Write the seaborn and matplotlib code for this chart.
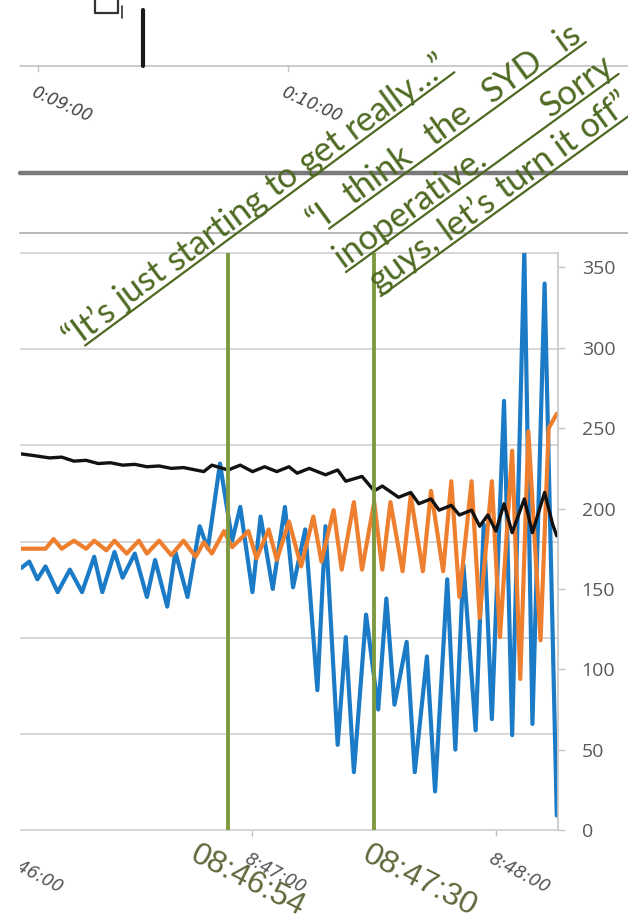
import numpy as np
import pandas as pd
import seaborn as sns
import matplotlib.pyplot as plt
from matplotlib.lines import Line2D
from matplotlib.transforms import Bbox, TransformedBbox, offset_copy
import matplotlib.dates as mdates

W, H = 628, 923

# seconds after 08:46:00 and the values (right axis)
blue_sec = [3, 5, 7, 9, 12, 15, 18, 21, 23, 26, 28, 31, 34, 36, 39, 41, 44, 47, 49, 52,
            55, 57, 60, 62, 65, 68, 70, 73, 76, 78, 81, 83, 85, 88, 91, 93, 95, 98, 100, 103,
            105, 108, 110, 112, 115, 117, 119, 122, 124, 127, 129, 132, 135]
blue_val = [163, 167, 156, 164, 148, 162, 148, 170, 148, 173, 157, 172, 145, 168, 139, 173, 145, 189, 175, 228,
            180, 201, 148, 195, 150, 201, 151, 187, 87, 189, 53, 120, 36, 134, 75, 144, 78, 117, 36, 108,
            24, 156, 50, 165, 62, 190, 69, 267, 59, 360, 66, 340, 9]

orange_sec = [3, 9, 11, 13, 16, 19, 21, 24, 26, 29, 32, 34, 37, 40, 43, 46, 48, 50, 53, 55,
              59, 61, 64, 66, 69, 72, 75, 77, 80, 82, 85, 87, 90, 92, 94, 97, 99, 102, 104, 107,
              109, 111, 114, 116, 119, 121, 124, 126, 128, 131, 133, 135]
orange_val = [175, 175, 181, 175, 180, 175, 180, 174, 180, 172, 180, 172, 180, 171, 180, 170, 179, 172, 186, 176,
              186, 169, 187, 168, 192, 164, 195, 167, 199, 162, 204, 162, 204, 162, 204, 161, 208, 161, 211, 161,
              217, 145, 217, 132, 217, 120, 236, 94, 248, 118, 250, 259]

black_sec = [3, 6, 10, 13, 16, 19, 22, 25, 28, 31, 34, 37, 40, 43, 48, 50, 54, 57, 60, 63,
             66, 69, 71, 74, 78, 81, 83, 87, 90, 92, 96, 99, 101, 104, 106, 109, 111, 114, 116, 118,
             120, 122, 124, 127, 129, 132, 134, 135]
black_val = [234, 233, 231.5, 232, 229.5, 230, 228, 228.5, 227, 227.5, 226, 226.5, 225, 225.5, 223, 227, 224, 227, 223, 226,
             223, 226, 222, 225, 221, 224, 217, 220, 211, 214, 207, 210, 203, 206, 199, 202, 196, 199, 189, 196,
             186, 203, 185, 206, 185, 210, 190, 183]

start_time = "08:46:00"
event_times = ["08:46:54", "08:47:30"]
tick_times = ["08:46:00", "08:47:00", "08:48:00"]
tick_labels = ["8:46:00", "8:47:00", "8:48:00"]
right_ticks = [0, 50, 100, 150, 200, 250, 300, 350]
grid_levels = [0, 1, 2, 3, 4, 5, 6]  # unlabeled left axis
top_tick_labels = ["0:09:00", "0:10:00"]

quote1 = "\u201cIt\u2019s just starting to get really\u2026\u201d"
quote2 = ["\u201cI think the SYD is", "inoperative. Sorry", "guys, let\u2019s turn it off\u201d"]

BLUE, ORANGE, BLACK = "#1b7bc6", "#ee7f2e", "#121212"
EVENT_GREEN = "#7e9a40"
TEXT_GREEN = "#4f6a22"

sns.set_theme(style="white")
plt.rcParams["font.family"] = ["Open Sans", "DejaVu Sans"]

day = "2016-01-01 "
t0 = pd.Timestamp(day + start_time)


def to_df(sec, val):
    return pd.DataFrame({"time": t0 + pd.to_timedelta(sec, unit="s"), "value": val})


def fig_xy(x, y):
    # reference pixel (from top-left) -> figure fraction
    return x / W, 1 - y / H


fig = plt.figure(figsize=(W / 100, H / 100), dpi=100)
fig.patch.set_facecolor("white")

# ---- main chart ----
left, right, top, bottom = 21, 558, 253, 830
ax = fig.add_axes([left / W, 1 - bottom / H, (right - left) / W, (bottom - top) / H])
ax2 = ax.twinx()

ax.set_ylim(grid_levels[0], grid_levels[-1])
ax.set_yticks([])
for g in grid_levels:
    ax.axhline(g, color="#d3d3d3", lw=1.3, clip_on=False)
for s in ax.spines.values():
    s.set_visible(False)

sns.lineplot(data=to_df(blue_sec, blue_val), x="time", y="value", ax=ax2, color=BLUE, lw=3.0)
sns.lineplot(data=to_df(orange_sec, orange_val), x="time", y="value", ax=ax2, color=ORANGE, lw=3.0)
sns.lineplot(data=to_df(black_sec, black_val), x="time", y="value", ax=ax2, color=BLACK, lw=2.4)
for et in event_times:
    ax2.axvline(pd.Timestamp(day + et), color=EVENT_GREEN, lw=2.8, zorder=6)

ax2.set_ylim(0, 359)
ax2.set_yticks(right_ticks)
ax2.set(xlabel="", ylabel="")
ax2.yaxis.set_ticks_position("right")
ax2.tick_params(axis="y", length=5, width=1, color="#c4c4c4",
                labelsize=14, labelcolor="#5a5a5a", pad=12)
for name, s in ax2.spines.items():
    s.set_visible(name == "right")
ax2.spines["right"].set_color("#c8c8c8")

ax2.set_xlim(t0 + pd.Timedelta(seconds=2.96), t0 + pd.Timedelta(seconds=135.3))
ax.set_xticks([pd.Timestamp(day + t) for t in tick_times[1:]])
ax.tick_params(axis="x", bottom=True, length=4, width=1, color="#bdbdbd", labelbottom=False)

# x tick labels, cut off at the left edge of the photo
clip = TransformedBbox(Bbox.from_extents(20 / W, 0, 1, 1), fig.transFigure)
for tt, lab in zip(tick_times, tick_labels):
    xnum = mdates.date2num(pd.Timestamp(day + tt))
    tr = offset_copy(ax.get_xaxis_transform(), fig=fig, x=-2, y=-20, units="dots")
    txt = fig.text(xnum, 0, lab, transform=tr, ha="left", va="top", rotation=-28,
                   rotation_mode="anchor", fontsize=12.5, style="italic", color="#555555",
                   family="DejaVu Sans")
    txt.set_clip_on(True)
    txt.set_clip_box(clip)

# big green event time labels
for et, dx in zip(event_times, [-29, -3]):
    xnum = mdates.date2num(pd.Timestamp(day + et))
    tr = offset_copy(ax.get_xaxis_transform(), fig=fig, x=dx, y=-10, units="dots")
    fig.text(xnum, 0, et, transform=tr, ha="left", va="top", rotation=-27,
             rotation_mode="anchor", fontsize=23, color="#5e6a3c", family="Liberation Sans")

# ---- top strip: piece of another chart ----
fig.add_artist(Line2D([20 / W, 1], [1 - 66 / H] * 2, transform=fig.transFigure, color="#c4c4c4", lw=1.2))
fig.add_artist(Line2D([143 / W] * 2, [1 - 10 / H, 1 - 66 / H], transform=fig.transFigure, color="#1a1a1a", lw=3))
fig.add_artist(Line2D([95 / W, 95 / W, 118 / W, 118 / W], [1, 1 - 13 / H, 1 - 13 / H, 1],
                      transform=fig.transFigure, color="#333333", lw=1.6))
fig.add_artist(Line2D([122 / W] * 2, [1 - 6 / H, 1 - 18 / H], transform=fig.transFigure, color="#333333", lw=1.2))
for xt, lab in zip([38, 288], top_tick_labels):
    fig.add_artist(Line2D([xt / W] * 2, [1 - 66 / H, 1 - 71 / H], transform=fig.transFigure, color="#c4c4c4", lw=1))
    fig.text(*fig_xy(xt - 2, 83), lab, ha="left", va="top", rotation=-24, rotation_mode="anchor",
             fontsize=12, style="italic", color="#444444", family="DejaVu Sans")

fig.add_artist(Line2D([20 / W, 1], [1 - 173 / H] * 2, transform=fig.transFigure, color="#7a7a7a", lw=3.2))
fig.add_artist(Line2D([20 / W, 1], [1 - 233 / H] * 2, transform=fig.transFigure, color="#b8b8b8", lw=1.4))

# ---- underlined quotes ----
renderer = fig.canvas.get_renderer()


def measure(s, fs):
    t = fig.text(0, 0, s, fontsize=fs, family="Lato")
    w = t.get_window_extent(renderer).width
    t.remove()
    return w


def draw_quote_line(line, x0, y0, angle, fs, target=None):
    th = np.deg2rad(angle)
    d = np.array([np.cos(th), -np.sin(th)])
    n = np.array([np.sin(th), np.cos(th)])
    words = line.split(" ")
    widths = [measure(w, fs) for w in words]
    if target is not None and len(words) > 1:
        gap = (target - sum(widths)) / (len(words) - 1)
    else:
        gap = measure("a a", fs) - measure("aa", fs)
    p0 = np.array([x0, y0], dtype=float)
    pos = 0.0
    for w, wd in zip(words, widths):
        p = p0 + d * pos
        fig.text(*fig_xy(*p), w, ha="left", va="baseline", rotation=angle, rotation_mode="anchor",
                 fontsize=fs, family="Lato", color=TEXT_GREEN)
        pos += wd + gap
    total = pos - gap
    skip = measure("\u201c", fs) if line.startswith("\u201c") else 0
    a = p0 + d * skip + n * 5
    b = p0 + d * total + n * 5
    fig.add_artist(Line2D([a[0] / W, b[0] / W], [1 - a[1] / H, 1 - b[1] / H],
                          transform=fig.transFigure, color=TEXT_GREEN, lw=1.6))


fs = 20 * 472 / measure(quote1, 20)
draw_quote_line(quote1, 72, 349, 36.5, fs, target=472)
draw_quote_line(quote2[0], 316, 232, 36, fs, target=330)
draw_quote_line(quote2[1], 343, 268, 36, fs, target=337)
draw_quote_line(quote2[2], 378, 292, 36, fs)

fig.savefig("out.png", dpi=100)
